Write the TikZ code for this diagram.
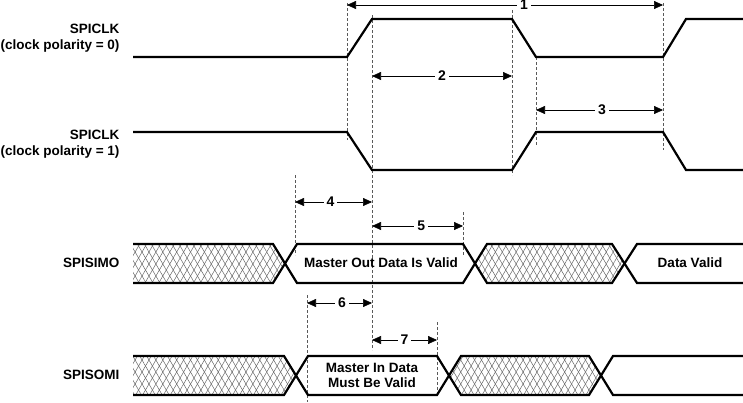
\documentclass[tikz,border=0pt]{standalone}
\usepackage{fontspec}
\setmainfont{Liberation Sans}
\usetikzlibrary{arrows.meta,patterns.meta}
\begin{document}
\begin{tikzpicture}[x=1pt,y=-1pt,
  sig/.style={line width=2.2pt,line join=miter},
  guide/.style={densely dashed,line width=0.5pt,gray!70!black},
  dim/.style={line width=0.6pt,{Triangle[length=9pt,width=8pt]}-{Triangle[length=9pt,width=8pt]}},
  dlab/.style={fill=white,inner sep=3pt,font=\fontsize{14}{15}\selectfont\bfseries},
  lab/.style={font=\fontsize{13.5}{16}\selectfont\bfseries,align=center},
  hatchA/.style={pattern={Lines[angle=60,distance=6pt,line width=0.5pt]},pattern color=gray!80!black},
  hatchB/.style={pattern={Lines[angle=-60,distance=6pt,line width=0.5pt]},pattern color=gray!80!black}]
\useasboundingbox (0,0) rectangle (743,402);
% guides
\draw[guide] (347,3) -- (347,140);
\draw[guide] (372,15) -- (372,350);
\draw[guide] (512,10) -- (512,175);
\draw[guide] (536,57) -- (536,145);
\draw[guide] (663,3) -- (663,150);
\draw[guide] (295,175) -- (295,255);
\draw[guide] (463,212) -- (463,255);
\draw[guide] (307,295) -- (307,402);
\draw[guide] (437,322) -- (437,395);
% clocks
\draw[sig] (133,57) -- (347,57) -- (372,19) -- (512,19) -- (536,57) -- (663,57) -- (686,19) -- (743,19);
\draw[sig] (133,132) -- (347,132) -- (372,170) -- (512,170) -- (536,132) -- (663,132) -- (686,170) -- (743,170);
\node[lab,anchor=east,align=right] (c0) at (123,38) {SPICLK\\(clock polarity = 0)};
\node[lab,anchor=east,align=right] (c1) at (123,144) {SPICLK\\(clock polarity = 1)};
% dimension lines
\coordinate (a1) at (347,5); \coordinate (b1) at (663,5);
\draw[dim] (a1) -- (b1) node[dlab,pos=0.56] (n1) {1};
\coordinate (a2) at (372,76); \coordinate (b2) at (512,76);
\draw[dim] (a2) -- (b2) node[dlab,pos=0.5] (n2) {2};
\coordinate (a3) at (536,110); \coordinate (b3) at (663,110);
\draw[dim] (a3) -- (b3) node[dlab,pos=0.52] (n3) {3};
\coordinate (a4) at (295,202); \coordinate (b4) at (372,202);
\draw[dim] (a4) -- (b4) node[dlab,pos=0.46] (n4) {4};
\coordinate (a5) at (372,226); \coordinate (b5) at (463,226);
\draw[dim] (a5) -- (b5) node[dlab,pos=0.54] (n5) {5};
\coordinate (a6) at (307,303); \coordinate (b6) at (372,303);
\draw[dim] (a6) -- (b6) node[dlab,pos=0.54] (n6) {6};
\coordinate (a7) at (372,340); \coordinate (b7) at (437,340);
\draw[dim] (a7) -- (b7) node[dlab,pos=0.5] (n7) {7};
% SPISIMO
\foreach \h in {hatchA,hatchB}{
\fill[\h] (133,244) -- (273,244) -- (285,263.5) -- (273,283) -- (133,283) -- cycle;
\fill[\h] (487,244) -- (612,244) -- (624.5,263.5) -- (612,283) -- (487,283) -- (475,263.5) -- cycle;
\fill[\h] (133,356) -- (284,356) -- (296,375.5) -- (284,395) -- (133,395) -- cycle;
\fill[\h] (461,356) -- (589,356) -- (601,375.5) -- (589,395) -- (461,395) -- (449,375.5) -- cycle;
}
\draw[sig] (133,244) -- (273,244) -- (297,283) -- (463,283) -- (487,244) -- (612,244) -- (637,283) -- (743,283);
\draw[sig] (133,283) -- (273,283) -- (297,244) -- (463,244) -- (487,283) -- (612,283) -- (637,244) -- (743,244);
\node[lab,anchor=east] (mosi) at (123,263) {SPISIMO};
\node[lab] (mov) at (381,263) {Master Out Data Is Valid};
\node[lab] (dv) at (690,263) {Data Valid};
% SPISOMI
\draw[sig] (133,356) -- (284,356) -- (308,395) -- (437,395) -- (461,356) -- (589,356) -- (613,395) -- (743,395);
\draw[sig] (133,395) -- (284,395) -- (308,356) -- (437,356) -- (461,395) -- (589,395) -- (613,356) -- (743,356);
\node[lab,anchor=east] (miso) at (123,375) {SPISOMI};
\node[lab,font=\fontsize{13.5}{15}\selectfont\bfseries] (miv) at (372,375) {Master In Data\\Must Be Valid};
\end{tikzpicture}
\end{document}
